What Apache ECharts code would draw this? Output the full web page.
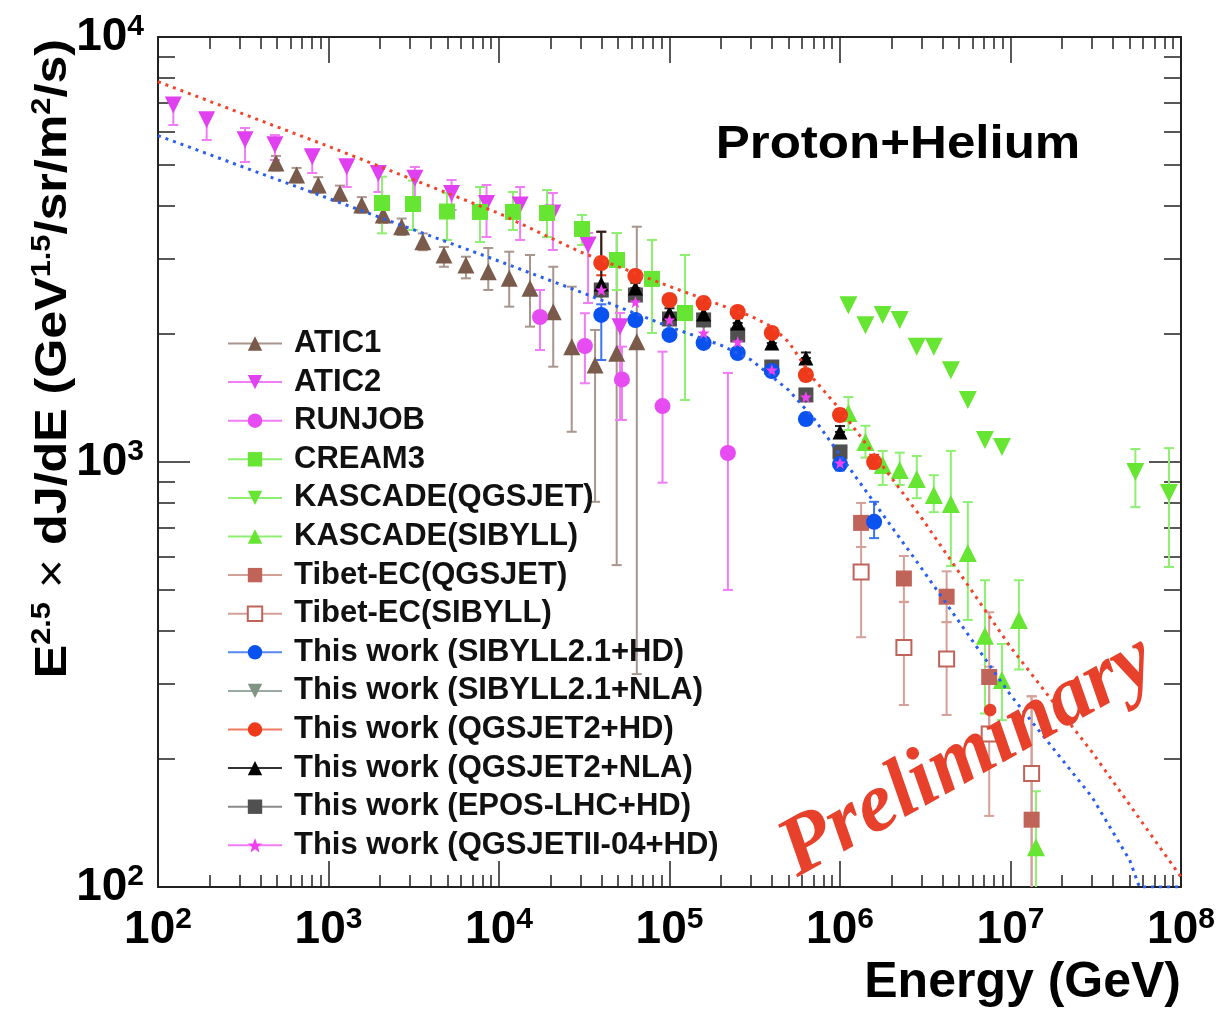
<!DOCTYPE html>
<html>
<head>
<meta charset="utf-8">
<script src="https://cdn.jsdelivr.net/npm/echarts@6/dist/echarts.min.js"></script>
<style>html,body{margin:0;padding:0;background:#fff;}#chart{width:1224px;height:1015px;}</style>
</head>
<body>
<div id="chart"></div>
<script>
// ---------------- DATA ----------------
const atic1E  = [492, 650, 871, 1167, 1567, 2094, 2685, 3573, 4753, 6397, 8650, 11480, 15200, 20800, 26700, 36600, 49000, 64300];
const atic1F  = [5052, 4735, 4486, 4288, 4025, 3813, 3578, 3298, 3069, 2907, 2804, 2705, 2563, 2258, 1868, 1691, 1803, 1919];
const atic1Lo = [4850, 4550, 4300, 4110, 3860, 3650, 3420, 3150, 2880, 2705, 2539, 2320, 2082, 1676, 1178, 806, 572, 317];
const atic1Hi = [5250, 4920, 4680, 4470, 4200, 3980, 3740, 3450, 3206, 3041, 3188, 3125, 3069, 2880, 2585, 2045, 3458, 3578];

const atic2E  = [123, 193, 324, 485, 803, 1280, 1960, 3210, 5270, 8450, 13300, 20700, 33300, 51300];
const atic2F  = [6918, 6383, 5728, 5575, 5228, 4950, 4776, 4650, 4286, 4060, 4023, 3853, 3240, 2080];
const atic2Lo = [6207, 5724, 5081, 5136, 4786, 4437, 4318, 3981, 3917, 3384, 3330, 3154, 2366, 1256];
const atic2Hi = [7186, 6625, 6107, 5880, 5422, 5081, 4945, 4945, 4608, 4485, 4437, 4295, 3459, 2242];

const runjobE  = [17400, 31900, 52600, 91000, 220000];
const runjobF  = [2194, 1875, 1564, 1354, 1050];
const runjobLo = [1834, 1532, 1256, 894, 500];
const runjobHi = [2539, 2239, 1868, 1818, 1620];

const creamE  = [2060, 3130, 4955, 7738, 12080, 19120, 30700, 49200, 78970, 123300];
const creamF  = [4068, 4046, 3885, 3876, 3876, 3854, 3534, 2988, 2696, 2242];
const creamLo = [3452, 3515, 3330, 3293, 3515, 3384, 3240, 2539, 2012, 1399];
const creamHi = [4692, 4591, 4295, 4437, 4318, 4365, 3813, 3458, 3330, 3069];

const kasQE  = [1.12e6, 1.41e6, 1.78e6, 2.24e6, 2.82e6, 3.55e6, 4.47e6, 5.62e6, 7.08e6, 8.91e6, 5.4e7, 8.5e7];
const kasQF  = [2339, 2099, 2217, 2159, 1866, 1866, 1645, 1399, 1127, 1085, 947, 845];
const kasQLo = [2339, 2099, 2217, 2159, 1866, 1866, 1645, 1399, 1127, 1085, 783, 566];
const kasQHi = [2339, 2099, 2217, 2159, 1866, 1866, 1645, 1399, 1127, 1085, 1073, 1078];

const kasSE  = [1.12e6, 1.41e6, 1.78e6, 2.24e6, 2.82e6, 3.55e6, 4.47e6, 5.62e6, 7.08e6, 8.91e6, 1.12e7, 1.41e7];
const kasSF  = [1304, 1114, 984, 958, 912, 836, 796, 611, 390, 307, 425, 124];
const kasSLo = [1189, 1024, 883, 883, 822, 762, 569, 425, 256, 247, 325, 50];
const kasSHi = [1422, 1217, 1062, 1052, 1033, 931, 1062, 805, 527, 373, 527, 168];

const tibetE   = [1.33e6, 2.37e6, 4.22e6, 7.5e6, 1.33e7];
const tibetQF  = [719, 532, 482, 312, 144];
const tibetQLo = [631, 469, 420, 228, 50];
const tibetQHi = [801, 601, 553, 443, 281];
const tibetSF  = [551, 366, 344, 229, 185];
const tibetSLo = [387, 268, 254, 147, 50];
const tibetSHi = [631, 468, 420, 330, 281];

const workE = [39800, 63100, 100000, 158500, 251200, 398100, 631000, 1000000, 1585000];
const sibHdF  = [2218, 2158, 1991, 1906, 1805, 1637, 1262, 989, 723];
const sibHdLo = [1738, 2100, 1940, 1855, 1755, 1590, 1225, 955, 662];
const sibHdHi = [2350, 2215, 2045, 1960, 1855, 1685, 1300, 1020, 806];
const sibNlaF = [2500, 2430, 2150, 2120, 1960, 1660, 1430, 1040];
const qgsHdF  = [2939, 2739, 2405, 2366, 2254, 2012, 1602, 1290, 1000];
const qgsHdLo = [2750, 2660, 2335, 2300, 2190, 1955, 1555, 1250, 965];
const qgsHdHi = [3482, 2820, 2475, 2435, 2320, 2070, 1650, 1330, 1040];
const qgsNlaF = [2624, 2567, 2242, 2230, 2124, 1905, 1757, 1177];
const qgsNlaHi = [3482, 2640, 2300, 2290, 2180, 1960, 1810, 1215];
const eposF   = [2539, 2471, 2170, 2159, 1990, 1673, 1438, 1056];
const qgs04F  = [2539, 2380, 2159, 2012, 1916, 1646, 1422, 995];

// model curves (dotted)
const redLineE = [100, 1000, 10000, 30000, 100000, 200000, 300000, 400000, 500000, 700000, 1000000, 3000000, 10000000, 30000000, 100000000];
const redLineF = [7850, 5530, 3846, 3120, 2589, 2339, 2205, 2078, 1916, 1568, 1330, 740, 367, 208, 105.6];
const blueLineE = [100, 1000, 10000, 30000, 100000, 200000, 300000, 500000, 700000, 1000000, 3000000, 10000000, 30000000, 50000000, 57000000, 100000000];
const blueLineF = [5862, 4170, 2969, 2513, 2080, 1884, 1740, 1476, 1269, 1039, 563, 283, 163, 115.7, 100, 100];

// ---------------- HELPERS ----------------
function pts(E, F) { return E.slice(0, F.length).map((e, i) => [e, F[i]]); }
function errs(E, Lo, Hi) { return Lo.map((l, i) => [E[i], l, Hi[i]]); }
const FONT = 'Liberation Sans';

function errSeries(data, color) {
  return {
    type: 'custom', silent: true, clip: true, z: 2,
    data: data,
    encode: { x: 0, y: [1, 2] },
    renderItem: function (params, api) {
      const x = api.value(0), lo = api.value(1), hi = api.value(2);
      if (!(hi > lo)) return;
      const p1 = api.coord([x, lo]), p2 = api.coord([x, hi]);
      const w = 5, st = { stroke: color, lineWidth: 2 };
      return { type: 'group', children: [
        { type: 'line', shape: { x1: p1[0], y1: p1[1], x2: p2[0], y2: p2[1] }, style: st },
        { type: 'line', shape: { x1: p1[0] - w, y1: p1[1], x2: p1[0] + w, y2: p1[1] }, style: st },
        { type: 'line', shape: { x1: p2[0] - w, y1: p2[1], x2: p2[0] + w, y2: p2[1] }, style: st }
      ]};
    }
  };
}
function ptSeries(name, data, color, symbol, size, rotate, extra) {
  return Object.assign({
    name: name, type: 'line', data: data, z: 3,
    symbol: symbol, symbolSize: size, symbolRotate: rotate || 0, showSymbol: true,
    itemStyle: { color: color, opacity: 1 },
    lineStyle: { width: 0, opacity: 0 },
    emphasis: { disabled: true }, animation: false
  }, extra || {});
}
const starPath = 'path://M0,-10L2.6,-3.2L9.5,-3.1L4,1.2L5.9,8.1L0,4L-5.9,8.1L-4,1.2L-9.5,-3.1L-2.6,-3.2Z';

const C = {
  atic1: '#7a5a4a', atic1e: '#a8968c',
  atic2: '#e040f0', atic2e: '#f07cf6',
  green: '#66e632', greene: '#8ef070',
  tibet: '#c0645a', tibete: '#d4a098',
  blue: '#0a52f0', nla: '#7f9484', red: '#ee3a1a', black: '#000000', epos: '#505050', q04: '#ee44f0'
};

// ---------------- CHART ----------------
const chart = echarts.init(document.getElementById('chart'), null, { renderer: 'canvas' });

const labelRich = {
  a: { fontSize: 46, fontWeight: 'bold', fontFamily: FONT, color: '#000', lineHeight: 50 },
  b: { fontSize: 30, fontWeight: 'bold', fontFamily: FONT, color: '#000', lineHeight: 30, verticalAlign: 'top' }
};
function xAxisCommon(pos, labels) {
  return {
    type: 'log', logBase: 10, min: 100, max: 100000000, position: pos,
    axisLine: { show: true, onZero: false, lineStyle: { color: '#222', width: 2 } },
    axisTick: { show: true, inside: true, length: 26, lineStyle: { color: '#222', width: 1.5 } },
    minorTick: { show: true, splitNumber: 9, length: 12, lineStyle: { color: '#222', width: 1.5 } },
    splitLine: { show: false }, minorSplitLine: { show: false },
    axisLabel: labels ? {
      show: true, margin: 18,
      formatter: v => '{a|10}{b|' + Math.round(Math.log10(v)) + '}',
      rich: labelRich
    } : { show: false }
  };
}
function yAxisCommon(pos, labels) {
  return {
    type: 'log', logBase: 10, min: 100, max: 10000, position: pos,
    axisLine: { show: true, onZero: false, lineStyle: { color: '#222', width: 2 } },
    axisTick: { show: true, inside: true, length: 32, lineStyle: { color: '#222', width: 1.5 } },
    minorTick: { show: true, splitNumber: 9, length: 17, lineStyle: { color: '#222', width: 1.5 } },
    splitLine: { show: false }, minorSplitLine: { show: false },
    axisLabel: labels ? {
      show: true, margin: 14,
      formatter: v => '{a|10}{b|' + Math.round(Math.log10(v)) + '}',
      rich: labelRich
    } : { show: false }
  };
}

const legendNames = ['ATIC1', 'ATIC2', 'RUNJOB', 'CREAM3', 'KASCADE(QGSJET)', 'KASCADE(SIBYLL)',
  'Tibet-EC(QGSJET)', 'Tibet-EC(SIBYLL)', 'This work (SIBYLL2.1+HD)', 'This work (SIBYLL2.1+NLA)',
  'This work (QGSJET2+HD)', 'This work (QGSJET2+NLA)', 'This work (EPOS-LHC+HD)', 'This work (QGSJETII-04+HD)'];
const legendLineColors = [C.atic1e, C.atic2e, C.atic2e, C.greene, C.greene, C.greene, C.tibete, C.tibete,
  '#5a86f0', '#9aaaa0', '#f07a60', '#333333', '#8a8a8a', '#f07cf6'];

const series = [
  errSeries(errs(atic1E, atic1Lo, atic1Hi), C.atic1e),
  errSeries(errs(atic2E, atic2Lo, atic2Hi), C.atic2e),
  errSeries(errs(runjobE, runjobLo, runjobHi), C.atic2e),
  errSeries(errs(creamE, creamLo, creamHi), C.greene),
  errSeries(errs(kasQE, kasQLo, kasQHi), C.greene),
  errSeries(errs(kasSE, kasSLo, kasSHi), C.greene),
  errSeries(errs(tibetE, tibetQLo, tibetQHi), C.tibete),
  errSeries(errs(tibetE, tibetSLo, tibetSHi), C.tibete),
  errSeries(errs(workE, sibHdLo, sibHdHi), '#3a74f0'),
  errSeries(errs(workE, qgsHdLo, qgsHdHi), C.red),
  errSeries(errs(workE, qgsNlaF, qgsNlaHi), '#222'),

  ptSeries('ATIC1', pts(atic1E, atic1F), C.atic1, 'triangle', 17),
  ptSeries('ATIC2', pts(atic2E, atic2F), C.atic2, 'triangle', 17, 180),
  ptSeries('RUNJOB', pts(runjobE, runjobF), '#e64cf2', 'circle', 16),
  ptSeries('CREAM3', pts(creamE, creamF), C.green, 'rect', 16),
  ptSeries('KASCADE(QGSJET)', pts(kasQE, kasQF), C.green, 'triangle', 18, 180),
  ptSeries('KASCADE(SIBYLL)', pts(kasSE, kasSF), C.green, 'triangle', 18),
  ptSeries('Tibet-EC(QGSJET)', pts(tibetE, tibetQF), C.tibet, 'rect', 16),
  ptSeries('Tibet-EC(SIBYLL)', pts(tibetE, tibetSF), C.tibet, 'emptyRect', 15, 0, { itemStyle: { color: C.tibet, borderColor: C.tibet, borderWidth: 2 } }),
  ptSeries('This work (SIBYLL2.1+NLA)', pts(workE, sibNlaF), C.nla, 'triangle', 15, 180),
  ptSeries('This work (EPOS-LHC+HD)', pts(workE, eposF), C.epos, 'rect', 15),
  ptSeries('This work (QGSJET2+NLA)', pts(workE, qgsNlaF), C.black, 'triangle', 15),
  ptSeries('This work (SIBYLL2.1+HD)', pts(workE, sibHdF), C.blue, 'circle', 16),
  ptSeries('This work (QGSJET2+HD)', pts(workE, qgsHdF), C.red, 'circle', 16),
  ptSeries('This work (QGSJETII-04+HD)', pts(workE, qgs04F), C.q04, starPath, 12),

  { type: 'line', data: pts(redLineE, redLineF), symbol: 'none', smooth: false, z: 4, silent: true, clip: true,
    lineStyle: { color: '#f0452a', width: 3, type: [3, 5] }, animation: false },
  { type: 'line', data: pts(blueLineE, blueLineF), symbol: 'none', smooth: false, z: 4, silent: true, clip: true,
    lineStyle: { color: '#2a5ef0', width: 3, type: [3, 5] }, animation: false }
];

const option = {
  animation: false,
  backgroundColor: '#ffffff',
  grid: { left: 158, right: 43, top: 37, bottom: 128, containLabel: false },
  xAxis: [xAxisCommon('bottom', true), xAxisCommon('top', false)],
  yAxis: [yAxisCommon('left', true), yAxisCommon('right', false)],
  legend: {
    orient: 'vertical', left: 222, top: 323,
    itemWidth: 54, itemHeight: 18, itemGap: 7.6,
    selectedMode: false,
    textStyle: { fontSize: 31, fontWeight: 'bold', fontFamily: FONT, color: '#111', lineHeight: 31, padding: [0, 0, 0, 7] },
    data: legendNames.map((n, i) => ({ name: n, lineStyle: { color: legendLineColors[i], width: 2, opacity: 1, type: 'solid' } }))
  },
  graphic: [
    { type: 'text', x: 898, y: 145, z: 10, scaleX: 1.11,
      style: { text: 'Proton+Helium', font: 'bold 46px "Liberation Sans"', fill: '#000', align: 'center', verticalAlign: 'middle' } },
    { type: 'text', x: 1181, y: 1008, z: 10,
      style: { text: 'Energy (GeV)', font: 'bold 50px "Liberation Sans"', fill: '#000', align: 'right', verticalAlign: 'bottom' } },
    { type: 'text', x: 54, y: 39, rotation: Math.PI / 2, scaleX: 1.14, z: 10,
      style: {
        text: '{n|E}{s|2.5}{x| × }{n|dJ/dE (GeV}{s|1.5}{n|/sr/m}{s|2}{n|/s)}',
        align: 'right', verticalAlign: 'middle',
        rich: {
          n: { fontSize: 44, fontWeight: 'bold', fontFamily: FONT, fill: '#000', lineHeight: 50 },
          x: { fontSize: 44, fontWeight: 'normal', fontFamily: FONT, fill: '#000', lineHeight: 50 },
          s: { fontSize: 27, fontWeight: 'bold', fontFamily: FONT, fill: '#000', lineHeight: 26, verticalAlign: 'top' }
        }
      } },
    { type: 'text', x: 968, y: 757, rotation: 0.51, z: 10,
      style: { text: 'Preliminary', font: 'italic bold 84px "Liberation Serif"', fill: '#e8412b', align: 'center', verticalAlign: 'middle' } }
  ],
  series: series
};
chart.setOption(option);
</script>
</body>
</html>
